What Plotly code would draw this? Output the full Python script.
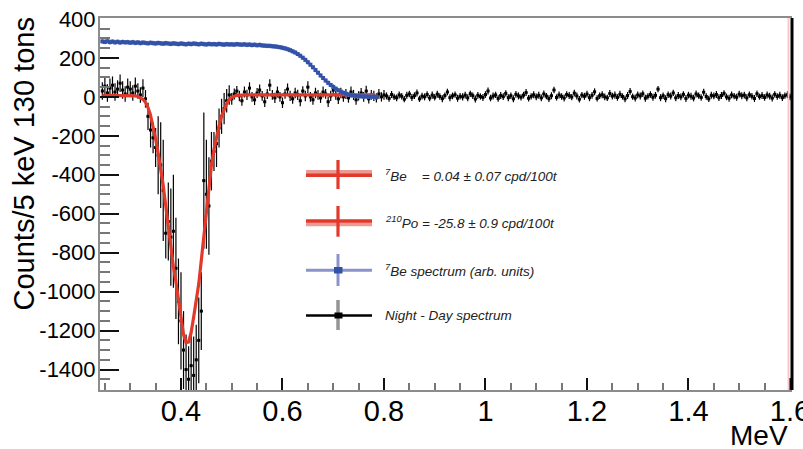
import plotly.graph_objects as go

# ---------------- data ----------------
# Night - Day spectrum, 5 keV bins starting at 0.245 MeV
nd_values = (
    # 0.245 - 0.330
    [30, 55, 20, 45, 60, 25, 40, 70, 35, 15, 50, 40, 20, 55, 30, 10, 45, -10]
    # 0.335 - 0.495 (210Po dip)
    + [-100, -170, -210, -260, -300, -350, -480, -700, -640, -720, -690, -880,
       -1050, -1150, -1300, -1400, -1450, -1380, -1430, -1350, -1250, -1100,
       -430, -500, -560, -330, -280, -240, -160, -100, -60, -20, 10]
    # 0.500 - 0.800
    + [-10, 15, 30, 5, -20, 25, 10, 45, 0, -15,
       20, 35, 5, -25, 15, 60, 10, -5, 25, 0,
       -30, 15, 40, 5, -10, 20, 10, -20, 30, 5,
       50, 0, -15, 20, 10, -5, 25, 15, -25, 5,
       35, 10, -10, 20, 0, 15, -5, 25, 10, -15,
       5, 20, 0, 30, -10, 10, 5, -5, 15, 0,
       10]
    # 0.805 - 1.600
    + [5, -8, 12, 0, -5, 10, 3, -12, 8, 15,
       -3, 6, 20, -10, 4, 0, 12, -6, 9, -2,
       14, 2, -9, 7, 25, -4, 5, 11, -7, 3,
       0, 9, -5, 16, 6, -11, 8, 2, -3, 12,
       30, -6, 4, 10, -8, 7, 1, 18, -4, 6,
       -10, 13, 5, -2, 9, 22, -7, 3, 11, 0,
       8, -5, 15, 4, -9, 6, 35, -3, 10, 2,
       -6, 12, 7, -1, 19, 5, -12, 9, 3, 14,
       -4, 8, 26, -8, 6, 11, 0, -5, 17, 4,
       9, -3, 13, 2, -10, 7, 28, 1, -6, 10,
       5, 16, -7, 3, 12, -2, 8, 40, -4, 6,
       -9, 11, 4, 20, -5, 7, 0, 13, -8, 9,
       3, -6, 15, 6, -3, 24, 2, -10, 8, 5,
       12, -4, 7, 18, 0, -7, 10, 4, -2, 14,
       6, 9, -5, 11, 3, -8, 16, 1, 7, -3,
       10, 4, -6, 13, 2, 8, -4, 6, 11, 0]
)
nd_errors = (
    [45, 50, 45, 50, 45, 45, 45, 45, 45, 40, 45, 40, 40, 45, 40, 40, 45, 45]
    + [70, 90, 80, 100, 200, 220, 260, 130, 200, 250, 290, 260, 220, 250, 200,
       180, 170, 190, 200, 180, 220, 200, 350, 280, 250, 150, 100, 120, 100,
       90, 80, 60, 50]
    + [30, 28, 26, 27, 25, 28, 26, 30, 25, 27,
       26, 28, 25, 27, 26, 30, 25, 26, 28, 25,
       27, 25, 29, 26, 25, 27, 26, 28, 25, 27,
       30, 25, 26, 27, 25, 26, 28, 25, 27, 26,
       28, 25, 26, 27, 25, 26, 25, 28, 26, 25,
       24, 26, 25, 27, 24, 25, 26, 24, 25, 24,
       25]
    + [18, 17, 18, 16, 17, 18, 17, 16, 18, 17] * 16
)
energies = [round(0.245 + 0.005 * i, 4) for i in range(len(nd_values))]

# 7Be spectrum (arbitrary units)
be7_values = [285, 282, 286, 281, 284, 280, 283, 279, 282, 280, 281,
              278, 281, 277, 280, 276, 279, 277, 275, 278, 276, 274,
              277, 275, 273, 276, 274, 272, 275, 273, 271, 274, 272,
              270, 273, 271, 274, 272, 270, 273, 271, 269, 272, 270,
              271, 269, 272, 270, 268, 271, 269, 270, 268, 271, 269,
              268, 270, 267, 269, 266, 268, 265, 267, 264, 263, 262,
              262, 260, 259, 257, 255, 252, 249, 245, 240, 234, 228,
              220, 211, 201, 190, 178, 165, 152, 138, 124, 110, 97,
              84, 72, 61, 51, 42, 34, 27, 21, 16, 12, 9,
              7, 5, 4, 3, 2, 2, 1, 1, 0, 0]
be7_errors = [12] * len(be7_values)
be7_energies = [round(0.245 + 0.005 * i, 4) for i in range(len(be7_values))]

# fit curve
fit_x = [0.245, 0.27, 0.29, 0.30, 0.31, 0.315, 0.32, 0.325, 0.33, 0.335, 0.34,
         0.345, 0.35, 0.355, 0.36, 0.365, 0.37, 0.375, 0.38, 0.385, 0.39, 0.395,
         0.40, 0.405, 0.41, 0.415, 0.42, 0.425, 0.43, 0.435, 0.44, 0.445, 0.45,
         0.455, 0.46, 0.465, 0.47, 0.475, 0.48, 0.485, 0.49, 0.495, 0.50, 0.51,
         0.53, 0.60, 0.70, 0.78]
fit_y = [8, 8, 8, 7, 5, 2, -3, -12, -28, -55, -95,
         -150, -215, -290, -370, -455, -560, -670, -780, -870, -950, -1030,
         -1130, -1220, -1262, -1258, -1210, -1130, -1045, -960, -840, -720, -600,
         -470, -350, -270, -205, -150, -100, -62, -35, -15, -2, 8,
         10, 10, 10, 10]

y_ticks = [400, 200, 0, -200, -400, -600, -800, -1000, -1200, -1400]
legend_labels = [
    "<i><sup>7</sup>Be\u00a0\u00a0\u00a0 = 0.04 \u00b1 0.07 cpd/100t</i>",
    "<i><sup>210</sup>Po = -25.8 \u00b1 0.9 cpd/100t</i>",
    "<i><sup>7</sup>Be spectrum (arb. units)</i>",
    "<i>Night - Day spectrum</i>",
]

# ---------------- figure ----------------
FONT = "Liberation Sans, Arial, Helvetica, sans-serif"
W, H = 803, 449
L, R, T, B = 100, 11, 18, 59
PW, PH = W - L - R, H - T - B


def px_x(p):
    return (p - L) / PW


def px_y(p):
    return (H - B - p) / PH


fig = go.Figure()

fig.add_trace(go.Scatter(
    x=energies, y=nd_values, mode="markers",
    marker=dict(symbol="square", size=3, color="black"),
    error_y=dict(type="data", array=nd_errors, color="black", thickness=1.2, width=0),
    error_x=dict(type="constant", value=0.0025, color="black", thickness=1.6, width=0),
    showlegend=False,
))
fig.add_trace(go.Scatter(
    x=fit_x, y=fit_y, mode="lines",
    line=dict(color="#e3392b", width=3.2),
    showlegend=False,
))
fig.add_trace(go.Scatter(
    x=be7_energies, y=be7_values, mode="markers",
    marker=dict(symbol="square", size=4, color="#3152a8"),
    error_y=dict(type="data", array=be7_errors, color="#8a93cc", thickness=1.2, width=0),
    error_x=dict(type="constant", value=0.0025, color="#3152a8", thickness=2, width=0),
    showlegend=False,
))

shapes = []
annotations = []

# right frame lines
shapes.append(dict(type="line", xref="paper", yref="paper", x0=1, x1=1, y0=0, y1=1,
                   line=dict(color="black", width=3)))
shapes.append(dict(type="line", xref="paper", yref="paper", x0=px_x(788.5), x1=px_x(788.5),
                   y0=0, y1=1, line=dict(color="#f6caca", width=2)))

# legend glyphs
gx0, gx1, gxc = px_x(306), px_x(372), px_x(338)
# entry 1 and 2: fit with band
for yc, band_off, vy0, vy1 in [(175.3, -3.3, 160, 189), (221, 3.3, 206, 236.7)]:
    shapes.append(dict(type="line", xref="paper", yref="paper", x0=gx0, x1=gx1,
                       y0=px_y(yc + band_off), y1=px_y(yc + band_off),
                       line=dict(color="#ec9a94", width=4)))
    shapes.append(dict(type="line", xref="paper", yref="paper", x0=gx0, x1=gx1,
                       y0=px_y(yc), y1=px_y(yc), line=dict(color="#e3392b", width=3.5)))
    shapes.append(dict(type="line", xref="paper", yref="paper", x0=gxc, x1=gxc,
                       y0=px_y(vy0), y1=px_y(vy1), line=dict(color="#e3392b", width=3.2)))
# entry 3: 7Be spectrum
shapes.append(dict(type="line", xref="paper", yref="paper", x0=gx0, x1=gx1,
                   y0=px_y(270.2), y1=px_y(270.2), line=dict(color="#8a93cc", width=3)))
shapes.append(dict(type="line", xref="paper", yref="paper", x0=gxc, x1=gxc,
                   y0=px_y(254), y1=px_y(286), line=dict(color="#8a93cc", width=3)))
shapes.append(dict(type="rect", xref="paper", yref="paper", x0=px_x(334), x1=px_x(342.5),
                   y0=px_y(273.5), y1=px_y(267), fillcolor="#3152a8", line=dict(width=0)))
# entry 4: night - day
shapes.append(dict(type="line", xref="paper", yref="paper", x0=gxc, x1=gxc,
                   y0=px_y(300), y1=px_y(330), line=dict(color="#959595", width=3.5)))
shapes.append(dict(type="line", xref="paper", yref="paper", x0=gx0, x1=gx1,
                   y0=px_y(315.5), y1=px_y(315.5), line=dict(color="black", width=2.5)))
shapes.append(dict(type="rect", xref="paper", yref="paper", x0=px_x(334.5), x1=px_x(342.5),
                   y0=px_y(318.5), y1=px_y(312.5), fillcolor="black", line=dict(width=0)))

for label, yc in zip(legend_labels, [175, 221.7, 270, 315.7]):
    annotations.append(dict(text=label, xref="paper", yref="paper", x=px_x(383), y=px_y(yc),
                            xanchor="left", yanchor="middle", showarrow=False,
                            font=dict(family=FONT, size=13.5, color="#222")))

# axis titles
annotations.append(dict(text="Counts/5 keV 130 tons", xref="paper", yref="paper",
                        x=px_x(23), y=px_y(16), xanchor="center", yanchor="top",
                        textangle=-90, showarrow=False,
                        font=dict(family=FONT, size=29, color="black")))
annotations.append(dict(text="MeV", xref="paper", yref="paper",
                        x=px_x(790), y=px_y(436), xanchor="right", yanchor="middle",
                        showarrow=False, font=dict(family=FONT, size=28, color="black")))

fig.update_layout(
    width=W, height=H,
    margin=dict(l=L, r=R, t=T, b=B, pad=0, autoexpand=False),
    paper_bgcolor="white", plot_bgcolor="white",
    font=dict(family=FONT, color="black"),
    shapes=shapes, annotations=annotations,
    showlegend=False,
)
fig.update_xaxes(
    range=[0.2404, 1.604], showgrid=False, zeroline=False, automargin=False,
    showline=True, linecolor="#8c8c8c", linewidth=2, mirror=True,
    ticks="inside", tick0=0, dtick=0.2, ticklen=12, tickwidth=2, tickcolor="#111",
    minor=dict(ticks="inside", dtick=0.05, tick0=0, ticklen=7, tickwidth=1.5, tickcolor="#777"),
    tickfont=dict(family=FONT, size=29, color="black"),
    ticklabeloverflow="allow", ticklabelstandoff=-6,
)
fig.update_yaxes(
    range=[-1505, 405], showgrid=False, zeroline=False, automargin=False,
    showline=True, linecolor="#8c8c8c", linewidth=2, mirror=False,
    ticks="inside", tickvals=y_ticks, ticktext=[str(v) for v in y_ticks],
    ticklen=19, tickwidth=2, tickcolor="#111",
    minor=dict(ticks="inside", dtick=50, tick0=0, ticklen=10, tickwidth=1.5, tickcolor="#777"),
    tickfont=dict(family=FONT, size=22, color="black"),
    ticklabelstandoff=-2,
)

fig.write_html("out.html")
